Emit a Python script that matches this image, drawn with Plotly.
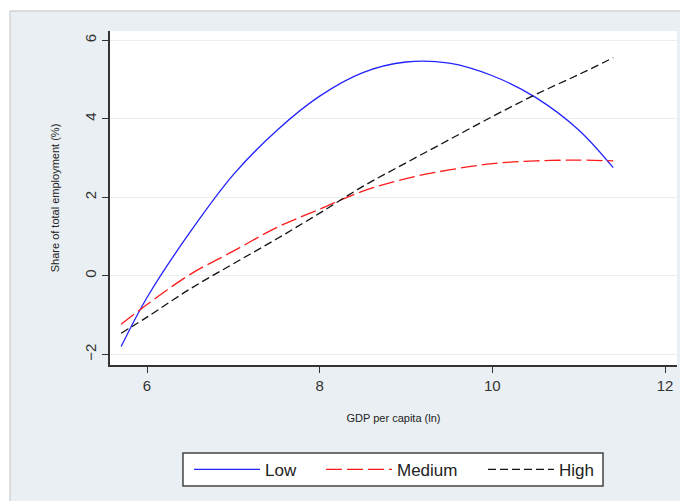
import plotly.graph_objects as go

# GDP per capita (ln) sample points
x_vals = [5.7, 6.0, 6.5, 7.0, 7.5, 8.0, 8.5, 9.0, 9.5, 10.0, 10.5, 11.0, 11.4]

# Share of total employment (%) fitted curves
low = [-1.80, -0.55, 1.12, 2.58, 3.70, 4.58, 5.18, 5.45, 5.42, 5.10, 4.55, 3.72, 2.76]
medium = [-1.23, -0.73, 0.04, 0.63, 1.23, 1.70, 2.16, 2.48, 2.70, 2.86, 2.93, 2.95, 2.93]
high = [-1.46, -1.05, -0.33, 0.31, 0.94, 1.60, 2.28, 2.88, 3.47, 4.06, 4.62, 5.13, 5.56]

x_ticks = [6, 8, 10, 12]
y_ticks = [-2, 0, 2, 4, 6]

fig = go.Figure()
fig.add_trace(go.Scatter(x=x_vals, y=low, mode="lines", name="Low", legend="legend",
                         line=dict(color="#2323ff", width=1.3, shape="spline")))
fig.add_trace(go.Scatter(x=x_vals, y=medium, mode="lines", name="Medium", legend="legend2",
                         line=dict(color="#ff1a1a", width=1.3, dash="16px,5px", shape="spline")))
fig.add_trace(go.Scatter(x=x_vals, y=high, mode="lines", name="High", legend="legend3",
                         line=dict(color="#111111", width=1.3, dash="8px,4px", shape="spline")))

bg = "#e9eff2"
leg_common = dict(orientation="h", xanchor="left", y=-0.314, yanchor="middle",
                  bgcolor="rgba(0,0,0,0)", borderwidth=0,
                  font=dict(size=17, color="#222"), itemwidth=66)
fig.update_layout(
    width=680, height=493,
    margin=dict(l=102, r=11, t=23, b=136),
    paper_bgcolor="white",
    plot_bgcolor="white",
    font=dict(family="Liberation Sans, Arial, sans-serif", color="#222"),
    showlegend=True,
    legend=dict(x=0.1393, **leg_common),
    legend2=dict(x=0.3721, **leg_common),
    legend3=dict(x=0.6578, **leg_common),
    shapes=[
        dict(type="rect", xref="paper", yref="paper", x0=-0.1764, x1=1.2, y0=-0.6, y1=1.06,
             fillcolor=bg, line=dict(color="#c4c4c4", width=1), layer="below"),
        dict(type="rect", xref="paper", yref="paper", x0=0, x1=1.0, y0=0, y1=1,
             fillcolor="white", line=dict(width=0), layer="below"),
        dict(type="rect", xref="paper", yref="paper", x0=0.1287, x1=0.8695, y0=-0.3623, y1=-0.2635,
             fillcolor="white", line=dict(color="#444", width=1.5), layer="below"),
    ],
)
fig.update_xaxes(range=[5.571, 12.139], tickvals=x_ticks, ticks="outside", ticklen=6,
                 tickcolor="#333", showline=True, linecolor="#333", linewidth=1.5,
                 showgrid=False, zeroline=False, tickfont=dict(size=15, color="#333"),
                 title=dict(text="GDP per capita (ln)", font=dict(size=11, color="#222"), standoff=22))
fig.update_yaxes(range=[-2.27, 6.24], tickvals=y_ticks, ticks="outside", ticklen=6,
                 tickcolor="#333", showline=True, linecolor="#333", linewidth=1.5,
                 showgrid=True, gridcolor="#e6eef0", gridwidth=1, zeroline=False,
                 tickangle=-90, tickfont=dict(size=15, color="#333"),
                 title=dict(text="Share of total employment (%)", font=dict(size=11, color="#222"), standoff=20))

fig.write_html("out.html")
